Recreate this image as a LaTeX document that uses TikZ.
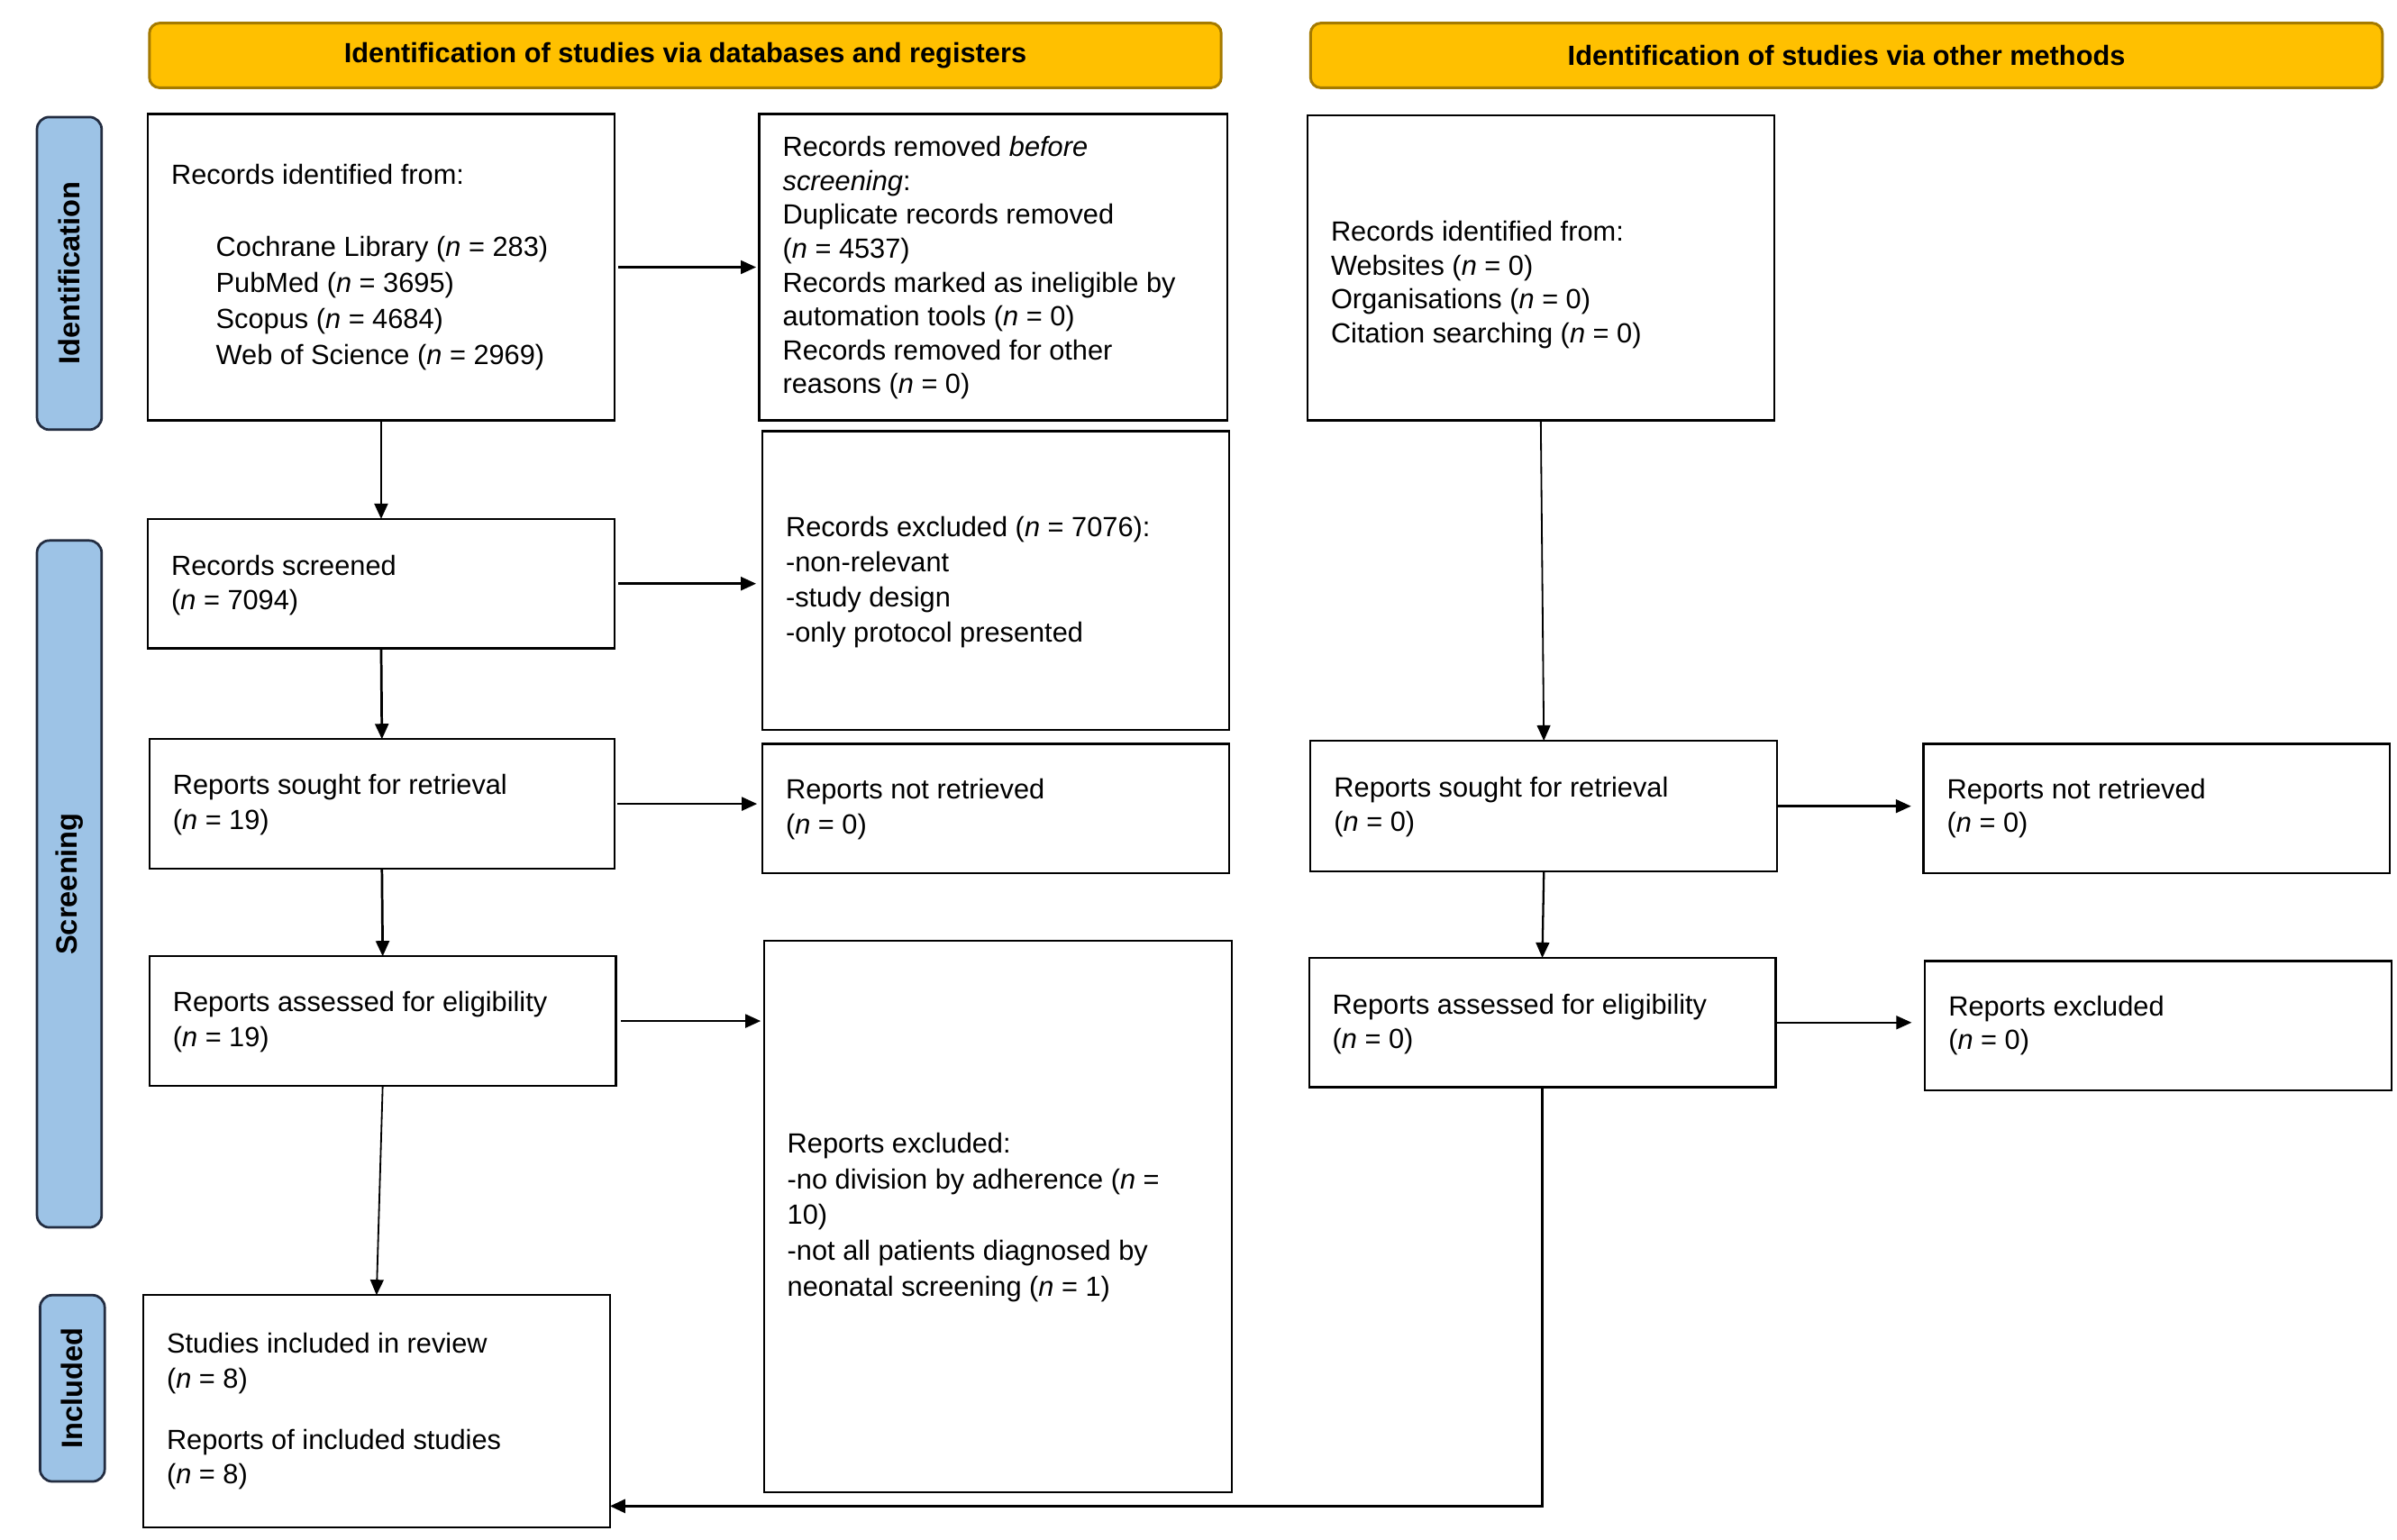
\documentclass[tikz,border=0pt]{standalone}
\usepackage{fontspec}
\setmainfont{Liberation Sans}
\usetikzlibrary{arrows.meta,fit}
\definecolor{gold}{RGB}{255,192,0}
\definecolor{goldline}{RGB}{165,122,0}
\definecolor{barblue}{RGB}{157,195,230}
\definecolor{barline}{RGB}{35,45,65}
% name, x1, y1, x2, y2, text centre y, text
\newcommand\prismabox[8][]{%
  \node[box, fit={(#3,#4) (#5,#6)}] (#2) {};
  \node[txt,#1] (#2t) at (#3+15,#7) {#8};
}
\begin{document}
\begin{tikzpicture}[x=0.75pt,y=-0.75pt,
  box/.style={draw=black, line width=1pt, inner sep=0pt, outer sep=0pt},
  txt/.style={align=left, inner sep=0pt, anchor=west, font=\fontsize{13.5}{17}\selectfont},
  hdr/.style={draw=goldline, fill=gold, line width=1.3pt, rounded corners=5pt, inner sep=0pt},
  hdrtxt/.style={inner sep=0pt, font=\bfseries\fontsize{13.5}{16}\selectfont},
  bar/.style={draw=barline, fill=barblue, line width=1.2pt, rounded corners=6pt, inner sep=0pt},
  bartxt/.style={inner sep=0pt, rotate=90, font=\bfseries\fontsize{14.3}{17}\selectfont},
  arr/.style={-{Triangle[length=7.5pt,width=6.5pt]}, line width=1.2pt},
  ]
\fill[white] (0,0) rectangle (1556.5,1000);
\useasboundingbox (0,0) rectangle (1556.5,1000);

% headers
\node[hdr, fit={(97,15) (793,57)}] (H1) {};
\node[hdrtxt] (H1t) at (H1.center) {Identification of studies via databases and registers};
\node[hdr, fit={(851,15) (1547,57)}] (H2) {};
\node[hdrtxt] (H2t) at (H2.center) {Identification of studies via other methods};

% side bars
\node[bar, fit={(24,76) (66,279)}] (S1) {};
\node[bartxt] (S1t) at (S1.center) {Identification};
\node[bar, fit={(24,351) (66,797)}] (S2) {};
\node[bartxt] (S2t) at (S2.center) {Screening};
\node[bar, fit={(26,841) (68,962)}] (S3) {};
\node[bartxt] (S3t) at (S3.center) {Included};

% left column
\prismabox[font=\fontsize{13.5}{17.5}\selectfont]{A}{96}{74}{399}{273}{173.5}{Records identified from:\\[17.5pt]
\hspace*{21.75pt}Cochrane Library (\textit{n} = 283)\\
\hspace*{21.75pt}PubMed (\textit{n} = 3695)\\
\hspace*{21.75pt}Scopus (\textit{n} = 4684)\\
\hspace*{21.75pt}Web of Science (\textit{n} = 2969)}
\prismabox[font=\fontsize{13.5}{16.5}\selectfont]{B}{493}{74}{797}{273}{174}{Records removed \textit{before}\\
\textit{screening}:\\
Duplicate records removed\\
(\textit{n} = 4537)\\
Records marked as ineligible by\\
automation tools (\textit{n} = 0)\\
Records removed for other\\
reasons (\textit{n} = 0)}
\prismabox[font=\fontsize{13.5}{16.5}\selectfont]{C}{96}{337}{399}{421}{380}{Records screened\\(\textit{n} = 7094)}
\prismabox{D}{495}{280}{798}{474}{378}{Records excluded (\textit{n} = 7076):\\-non-relevant\\-study design\\-only protocol presented}
\prismabox{E}{97}{480}{399}{564}{522.5}{Reports sought for retrieval\\(\textit{n} = 19)}
\prismabox{F}{495}{483}{798}{567}{525.5}{Reports not retrieved\\(\textit{n} = 0)}
\prismabox{G}{97}{621}{400}{705}{663.5}{Reports assessed for eligibility\\(\textit{n} = 19)}
\prismabox[font=\fontsize{13.5}{17.5}\selectfont]{H}{496}{611}{800}{969}{790.5}{Reports excluded:\\
-no division by adherence (\textit{n} =\\
10)\\
-not all patients diagnosed by\\
neonatal screening (\textit{n} = 1)}
\prismabox{I}{93}{841}{396}{992}{916.5}{Studies included in review\\(\textit{n} = 8)\\[12.75pt]Reports of included studies\\(\textit{n} = 8)}

% right column
\prismabox[font=\fontsize{13.5}{16.5}\selectfont]{J}{849}{75}{1152}{273}{185}{Records identified from:\\
Websites (\textit{n} = 0)\\
Organisations (\textit{n} = 0)\\
Citation searching (\textit{n} = 0)}
\prismabox[font=\fontsize{13.5}{16.5}\selectfont]{K}{851}{481}{1154}{566}{524}{Reports sought for retrieval\\(\textit{n} = 0)}
\prismabox[font=\fontsize{13.5}{16.5}\selectfont]{L}{1249}{483}{1552}{567}{525}{Reports not retrieved\\(\textit{n} = 0)}
\prismabox[font=\fontsize{13.5}{16.5}\selectfont]{M}{850}{622}{1153}{706}{665}{Reports assessed for eligibility\\(\textit{n} = 0)}
\prismabox[font=\fontsize{13.5}{16.5}\selectfont]{N}{1250}{624}{1553}{708}{666}{Reports excluded\\(\textit{n} = 0)}

% connectors
\draw[arr, shorten <=2pt, shorten >=1.5pt] (A.east) -- (B.west);
\draw[arr] (A.south) -- (C.north);
\draw[arr, shorten <=2pt, shorten >=3pt] (C.east) -- (C.east -| D.west);
\draw[arr] (C.south) -- (E.north);
\draw[arr, shorten <=1.5pt, shorten >=2.5pt] (E.east) -- (E.east -| F.west);
\draw[arr] (E.south) -- (G.north);
\draw[arr, shorten <=2.5pt, shorten >=1.5pt] (G.east) -- (G.east -| H.west);
\draw[arr, line width=0.8pt] (G.south) -- (I.north);
\draw[arr, line width=0.8pt] (J.south) -- (K.north);
\draw[arr, shorten >=6pt] (K.east) -- (K.east -| L.west);
\draw[arr, line width=1pt] (K.south) -- (M.north);
\draw[arr, line width=1pt, shorten >=6.5pt] (M.east) -- (M.east -| N.west);
\coordinate (turn) at (1000,978);
\draw[arr, line width=1.5pt] (M.south) |- (I.east |- turn);
\end{tikzpicture}
\end{document}
